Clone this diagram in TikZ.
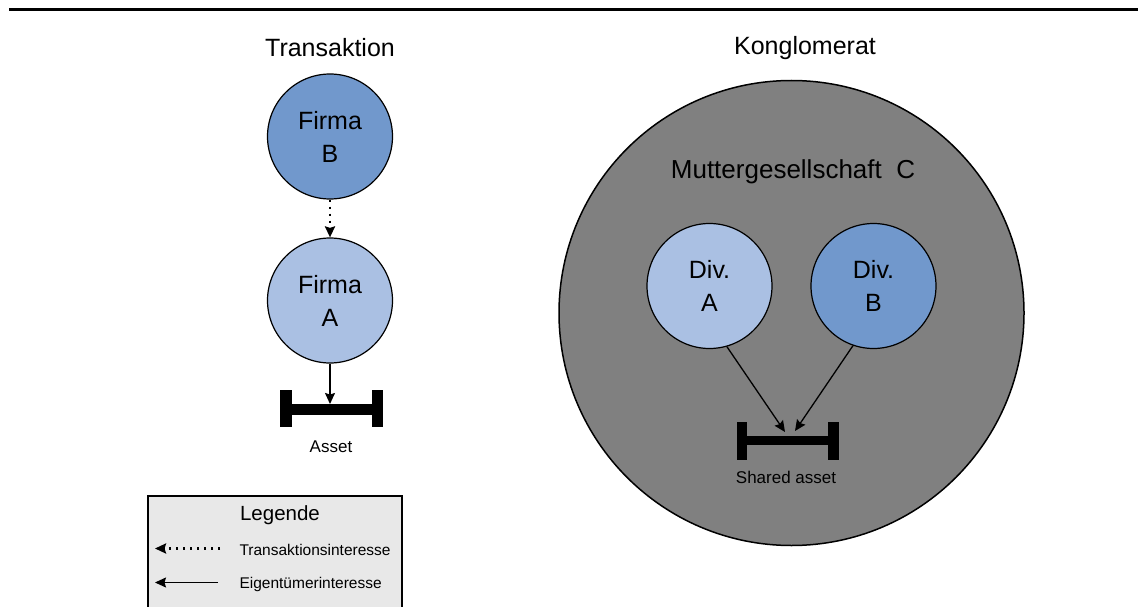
\documentclass[tikz,border=0pt]{standalone}
\usepackage{fontspec}
\setmainfont{Liberation Sans}
\usetikzlibrary{arrows.meta,positioning}
\definecolor{firmdark}{HTML}{7198CC}
\definecolor{firmlight}{HTML}{AAC0E3}
\definecolor{parentgray}{HTML}{808080}
\definecolor{legendgray}{HTML}{E8E8E8}

\begin{document}
\begin{tikzpicture}[x=1pt,y=-1pt,
  firm/.style={circle,draw,line width=1.2pt,minimum size=125pt,inner sep=0pt,align=center,font=\fontsize{25}{33}\selectfont},
  title/.style={font=\fontsize{25}{30}\selectfont},
  small/.style={font=\fontsize{17}{20}\selectfont},
  legtext/.style={font=\fontsize{15.5}{18}\selectfont,anchor=west},
  tip/.style={-{Stealth[length=11pt,width=10pt,inset=1.5pt]}},
  owner/.style={tip,line width=1.3pt},
  deal/.style={tip,line width=2.8pt,dash pattern=on 2.4pt off 4.6pt}]
\useasboundingbox (0,0) rectangle (1138,607);

% top rule
\draw[line width=3pt] (9,10) -- (1138,10);

% left part: transaction
\node[title] (ttrans) at (330,48) {Transaktion};
\node[firm,fill=firmdark] (firmB) at (330,136.5) {Firma\\B};
\node[firm,fill=firmlight] (firmA) at (330,300.5) {Firma\\A};
\draw[deal] (firmB) -- (firmA);

% asset bar
\fill (280,390) rectangle (292,427);
\fill (372,390) rectangle (383,427);
\fill (292,404) rectangle (372,415);
\coordinate (asset) at (330,404);
\node[small] (tasset) at (331,447) {Asset};
\draw[owner] (firmA) -- (asset);

% right part: conglomerate
\node[title] (tcong) at (805,48) {Konglomerat};
\node[circle,draw,line width=1.5pt,fill=parentgray,minimum size=465pt,inner sep=0pt] (parent) at (791.5,313) {};
\node[font=\fontsize{26}{30}\selectfont] (tparent) at (793,172) {Muttergesellschaft\ \ C};
\node[firm,fill=firmlight] (divA) at (709.5,286) {Div.\\A};
\node[firm,fill=firmdark] (divB) at (873.5,286) {Div.\\B};

% shared asset bar
\fill (737,422) rectangle (747,460);
\fill (828,422) rectangle (839,460);
\fill (747,436) rectangle (828,445);
\coordinate (sharedL) at (785,432);
\coordinate (sharedR) at (795,431);
\node[small] (tshared) at (786,477) {Shared asset};
\draw[owner] (divA.-74) -- (sharedL);
\draw[owner] (divB.-109) -- (sharedR);

% legend
\draw[line width=1.2pt,fill=legendgray] (148,496) rectangle (402,612);
\node[font=\fontsize{20.5}{24}\selectfont] (tleg) at (280,515) {Legende};
\node[legtext] (tdeal) at (236,550) {Transaktionsinteresse};
\node[legtext] (towner) at (236,584) {Eigentümerinteresse};
\coordinate (dealS) at (220,548.5);
\coordinate (dealE) at (155,548.5);
\coordinate (ownerS) at (218,582.5);
\coordinate (ownerE) at (155,582.5);
\draw[deal] (dealS) -- (dealE);
\draw[owner] (ownerS) -- (ownerE);
\end{tikzpicture}
\end{document}
